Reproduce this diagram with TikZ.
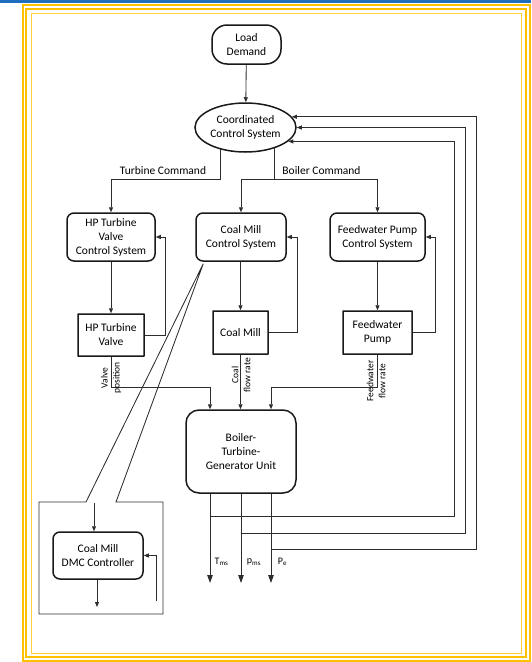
\documentclass[tikz,border=0pt]{standalone}
\usepackage{fontspec}
\setmainfont{Carlito}
\usetikzlibrary{arrows.meta,shapes.geometric}
\definecolor{gold}{RGB}{255,192,0}
\definecolor{topblue}{RGB}{30,110,190}
\definecolor{ln}{RGB}{45,45,45}
\begin{document}
\begin{tikzpicture}[x=1pt,y=-1pt,
  box/.style={draw=black!90,line width=1.5pt,align=center,inner sep=0pt,font=\fontsize{11.5}{14}\selectfont},
  rbox/.style={box,rounded corners=7pt},
  sbox/.style={box,rounded corners=0.2pt},
  arr/.style={draw=ln,line width=0.85pt,-{Triangle[length=5pt,width=4pt]}},
  bigarr/.style={draw=ln,line width=0.9pt,-{Triangle[length=8pt,width=5.5pt]}},
  ln/.style={draw=ln,line width=0.85pt},
  lbl/.style={font=\fontsize{11.5}{14}\selectfont,inner sep=0pt},
  rlbl/.style={font=\fontsize{9.5}{12}\selectfont,inner sep=0pt,align=center,rotate=90},
  olbl/.style={font=\fontsize{10}{12}\selectfont,inner sep=0pt}]
\useasboundingbox (0,0) rectangle (531,662);
% frame
\fill[topblue] (0,0) rectangle (531,2.5);
\draw[gold,line width=2.2pt] (23.2,5.2) rectangle (529.8,660.6);
\draw[gold,line width=2.2pt] (26.3,9.2) rectangle (525.8,656.8);
\draw[gold!75,line width=1pt] (31.5,13.5) rectangle (521,653);
% nodes
\node[box,rounded corners=15pt,minimum width=69pt,minimum height=39pt] (ld) at (246.5,44.5) {Load\\Demand};
\node[box,ellipse,minimum width=101pt,minimum height=49pt] (ccs) at (245.5,127.5) {Coordinated\\Control System};
\node[rbox,minimum width=88pt,minimum height=48pt] (hpcs) at (111,237) {HP Turbine\\Valve\\Control System};
\node[rbox,minimum width=90pt,minimum height=48pt] (cmcs) at (241,237) {Coal Mill\\Control System};
\node[rbox,minimum width=95pt,minimum height=48pt] (fwcs) at (377.5,237) {Feedwater Pump\\Control System};
\node[sbox,minimum width=66pt,minimum height=42pt] (hpv) at (111,335) {HP Turbine\\Valve};
\node[sbox,minimum width=55pt,minimum height=43pt] (cm) at (240.5,332.5) {Coal Mill};
\node[sbox,minimum width=69pt,minimum height=43pt] (fwp) at (377.5,332.5) {Feedwater\\Pump};
\node[box,rounded corners=13pt,minimum width=110pt,minimum height=83pt] (btg) at (241,451.5) {Boiler-\\Turbine-\\Generator Unit};
\node[rbox,minimum width=90pt,minimum height=47pt] (dmc) at (98,555.5) {Coal Mill\\DMC Controller};
% helper coordinates
\coordinate (cmdy) at (0,179);
\coordinate (rowy) at (0,387);
\coordinate (tc) at (220,148.5);
\coordinate (bc) at (274,147.7);
\coordinate (oT) at (210,583);
\coordinate (op) at (241,583);
\coordinate (oP) at (271,583);
\coordinate (tT) at (210,516);
\coordinate (tp) at (241,533);
\coordinate (tP) at (271,549);
\coordinate (fx1) at (476,0);
\coordinate (fx2) at (465,0);
\coordinate (fx3) at (454,0);
\coordinate (hfx) at (165,0);
\coordinate (cfx) at (297,0);
\coordinate (ffx) at (435,0);
\coordinate (g1) at (86,502);
\coordinate (g2) at (116,502);
\coordinate (din) at (94,503);
\coordinate (dout) at (97,607);
\coordinate (dfb) at (156,601);
% connectors
\draw[arr] (ld) -- (ccs);
\draw[arr] (tc) |- (cmdy -| hpcs.north) -- (hpcs.north);
\draw[ln] (bc) -- (bc |- cmdy);
\draw[ln] (cmdy -| cmcs.north) -- (cmdy -| fwcs.north);
\draw[arr] (cmdy -| cmcs.north) -- (cmcs.north);
\draw[arr] (cmdy -| fwcs.north) -- (fwcs.north);
\node[lbl] (tcl) at (163,171) {Turbine Command};
\node[lbl] (bcl) at (321.5,171) {Boiler Command};
\draw[arr] (hpcs) -- (hpv);
\draw[arr] (cmcs.south -| cm.north) -- (cm.north);
\draw[arr] (fwcs) -- (fwp);
\draw[arr] (hpv.east) -| (hfx |- hpcs.east) -- (hpcs.east);
\draw[arr] (cm.east) -| (cfx |- cmcs.east) -- (cmcs.east);
\draw[arr] (fwp.east) -| (ffx |- fwcs.east) -- (fwcs.east);
\draw[arr] (hpv.south) |- (rowy -| oT) -- (oT |- btg.north);
\draw[arr] (cm.south) -- (cm.south |- btg.north);
\draw[arr] (fwp.south) |- (rowy -| oP) -- (oP |- btg.north);
\node[rlbl] (vpl) at (111,378) {Valve\\position};
\node[rlbl] (cfl) at (241,375) {Coal\\flow rate};
\node[rlbl] (ffl) at (376,381) {Feedwater\\flow rate};
\draw[bigarr] (btg.south -| oT) -- (oT);
\draw[bigarr] (btg.south -| op) -- (op);
\draw[bigarr] (btg.south -| oP) -- (oP);
\node[olbl] (tl) at (221.5,562) {T\textsubscript{ms}};
\node[olbl] (pl) at (254,562) {p\textsubscript{ms}};
\node[olbl] (Pl) at (282.5,562) {P\textsubscript{e}};
\draw[arr] (tT) -| (fx3 |- ccs.-18) -- (ccs.-18);
\draw[arr] (tp) -| (fx2 |- ccs.east) -- (ccs.east);
\draw[arr] (tP) -| (fx1 |- ccs.13) -- (ccs.13);
% DMC callout
\draw[ln,line join=miter] ([xshift=8pt,yshift=-2pt]cmcs.south west) -- (g1) -- (39,502) -- (39,614) -- (163,614) -- (163,502) -- (g2) -- cycle;
\draw[arr] (din) -- (din |- dmc.north);
\draw[arr] (dmc.south -| dout) -- (dout);
\draw[arr] (dfb) |- (dmc.east);
\end{tikzpicture}
\end{document}
